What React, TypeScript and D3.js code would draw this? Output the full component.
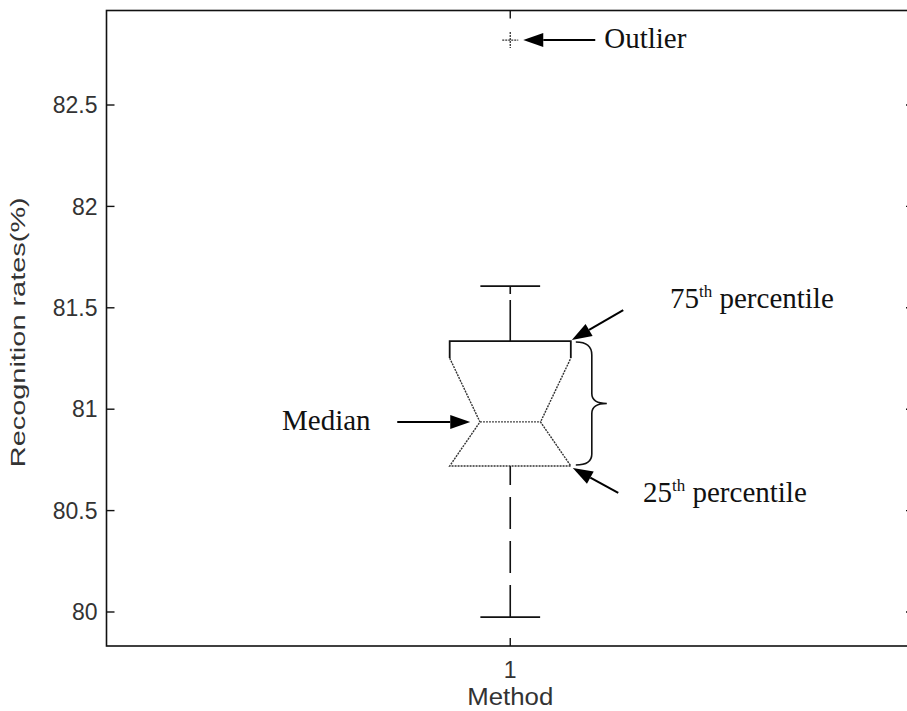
import React from "react";
import * as d3 from "d3";

const categories = ["1"];
const yTicks = [80, 80.5, 81, 81.5, 82, 82.5];
const whiskerLow = [79.975];
const q1 = [80.72];
const median = [80.937];
const notchHigh = [81.252];
const q3 = [81.336];
const whiskerHigh = [81.607];
const outliers = [82.82];

const W = 907;
const H = 711;

export default function App() {
  const y = d3.scaleLinear().domain([79.8323, 82.966]).range([646, 10.5]);
  const x = d3.scaleLinear().domain([0.5, 1.5]).range([106.5, 914]);
  const left = x(0.5), right = x(1.5), top = y(82.966), bottom = y(79.8323);
  const sans = "'Liberation Sans', Arial, sans-serif";
  const serif = "'Liberation Serif', 'Times New Roman', serif";
  const tickLen = 8;

  const cx = x(1);
  const bw = x(1 + 0.075) - cx; // box half width
  const nw = bw / 2; // notch half width
  const cw = x(1 + 0.037) - cx; // cap half width

  const yq1 = y(q1[0]), yq3 = y(q3[0]), ymed = y(median[0]), ynh = y(notchHigh[0]);
  const ywl = y(whiskerLow[0]), ywh = y(whiskerHigh[0]);

  const arrow = (x1: number, y1: number, x2: number, y2: number, key: string) => {
    const ang = Math.atan2(y2 - y1, x2 - x1);
    const L = 20, Wd = 7;
    const bx = x2 - L * Math.cos(ang), by = y2 - L * Math.sin(ang);
    const px = -Math.sin(ang) * Wd, py = Math.cos(ang) * Wd;
    return (
      <g key={key}>
        <line x1={x1} y1={y1} x2={bx} y2={by} stroke="#000" strokeWidth={2} />
        <path d={`M${x2},${y2}L${bx + px},${by + py}L${bx - px},${by - py}Z`} fill="#000" />
      </g>
    );
  };

  const braceX = cx + bw + 5;
  const bmid = (yq3 + yq1) / 2;
  const brace = `M${braceX},${yq3 + 1} Q${braceX + 16},${yq3 + 1} ${braceX + 16},${yq3 + 14} L${braceX + 16},${bmid - 10} Q${braceX + 16},${bmid} ${braceX + 31},${bmid} Q${braceX + 16},${bmid} ${braceX + 16},${bmid + 10} L${braceX + 16},${yq1 - 12} Q${braceX + 16},${yq1 - 1} ${braceX},${yq1 - 1}`;

  return (
    <svg width={W} height={H} style={{ position: "absolute", left: 0, top: 0, background: "#fff" }}>
      <rect x={0} y={0} width={W} height={H} fill="#fff" />
      {/* frame */}
      <rect x={left} y={top} width={right - left} height={bottom - top} fill="none" stroke="#111" strokeWidth={1.6} />
      {/* y ticks */}
      {yTicks.map((t) => (
        <g key={t}>
          <line x1={left} x2={left + tickLen} y1={y(t)} y2={y(t)} stroke="#111" strokeWidth={1.4} />
          <line x1={right} x2={right - tickLen} y1={y(t)} y2={y(t)} stroke="#111" strokeWidth={1.4} />
          <text x={left - 9} y={y(t)} dy="0.36em" textAnchor="end" fontFamily={sans} fontSize={23} fill="#333">
            {String(t)}
          </text>
        </g>
      ))}
      {/* x ticks */}
      {categories.map((c, i) => (
        <g key={c}>
          <line x1={x(i + 1)} x2={x(i + 1)} y1={bottom} y2={bottom - tickLen} stroke="#111" strokeWidth={1.4} />
          <line x1={x(i + 1)} x2={x(i + 1)} y1={top} y2={top + tickLen} stroke="#111" strokeWidth={1.4} />
          <text x={x(i + 1)} y={bottom + 32} textAnchor="middle" fontFamily={sans} fontSize={23} fill="#333">
            {c}
          </text>
        </g>
      ))}
      <text x={cx} y={705} textAnchor="middle" fontFamily={sans} fontSize={23} fill="#333" textLength={86} lengthAdjust="spacingAndGlyphs">
        Method
      </text>
      <text
        transform={`translate(25,${(top + bottom) / 2 + 4}) rotate(-90)`}
        textAnchor="middle"
        fontFamily={sans}
        fontSize={20}
        fill="#333"
        textLength={270}
        lengthAdjust="spacingAndGlyphs"
      >
        Recognition rates(%)
      </text>

      {/* whiskers */}
      <line x1={cx} x2={cx} y1={ywl} y2={yq1} stroke="#111" strokeWidth={1.6} strokeDasharray="32,12" />
      <line x1={cx} x2={cx} y1={yq3} y2={ywh} stroke="#111" strokeWidth={1.6} strokeDasharray="41,6" />
      <line x1={cx - cw} x2={cx + cw} y1={ywl} y2={ywl} stroke="#111" strokeWidth={1.8} />
      <line x1={cx - cw} x2={cx + cw} y1={ywh} y2={ywh} stroke="#111" strokeWidth={1.8} />

      {/* notched box */}
      <path
        d={`M${cx - bw},${ynh} L${cx - bw},${yq3} L${cx + bw},${yq3} L${cx + bw},${ynh}`}
        fill="none"
        stroke="#111"
        strokeWidth={1.8}
      />
      <path
        d={`M${cx - bw},${ynh} L${cx - nw},${ymed} L${cx - bw},${yq1} L${cx + bw},${yq1} L${cx + nw},${ymed} L${cx + bw},${ynh}`}
        fill="none"
        stroke="#333"
        strokeWidth={1.4}
        strokeDasharray="2,1"
      />
      <line x1={cx - nw} x2={cx + nw} y1={ymed} y2={ymed} stroke="#444" strokeWidth={1.3} strokeDasharray="2,1" />

      {/* outliers */}
      {outliers.map((o, i) => (
        <g key={i}>
          <line x1={cx - 8} x2={cx + 8} y1={y(o)} y2={y(o)} stroke="#333" strokeWidth={1.3} strokeDasharray="2,1" />
          <line x1={cx} x2={cx} y1={y(o) - 8} y2={y(o) + 8} stroke="#333" strokeWidth={1.3} strokeDasharray="2,1" />
        </g>
      ))}

      {/* annotations */}
      {arrow(cx + 85, y(outliers[0]), cx + 13, y(outliers[0]), "a1")}
      <text x={cx + 94} y={y(outliers[0]) + 8} fontFamily={serif} fontSize={29} fill="#111">Outlier</text>

      {arrow(cx - 113, ymed, cx - 40, ymed, "a2")}
      <text x={282} y={ymed + 8} fontFamily={serif} fontSize={29} fill="#111">Median</text>

      {arrow(cx + 113, yq3 - 31, cx + bw + 1, yq3 - 1, "a3")}
      <text x={670} y={308} fontFamily={serif} fontSize={29} fill="#111">
        75<tspan fontSize={17} dy={-11}>th</tspan>
        <tspan dy={11}> percentile</tspan>
      </text>

      {arrow(cx + 108, yq1 + 27, cx + bw + 2, yq1 + 2, "a4")}
      <text x={643} y={502} fontFamily={serif} fontSize={29} fill="#111">
        25<tspan fontSize={17} dy={-11}>th</tspan>
        <tspan dy={11}> percentile</tspan>
      </text>

      <path d={brace} fill="none" stroke="#111" strokeWidth={1.6} />
    </svg>
  );
}
